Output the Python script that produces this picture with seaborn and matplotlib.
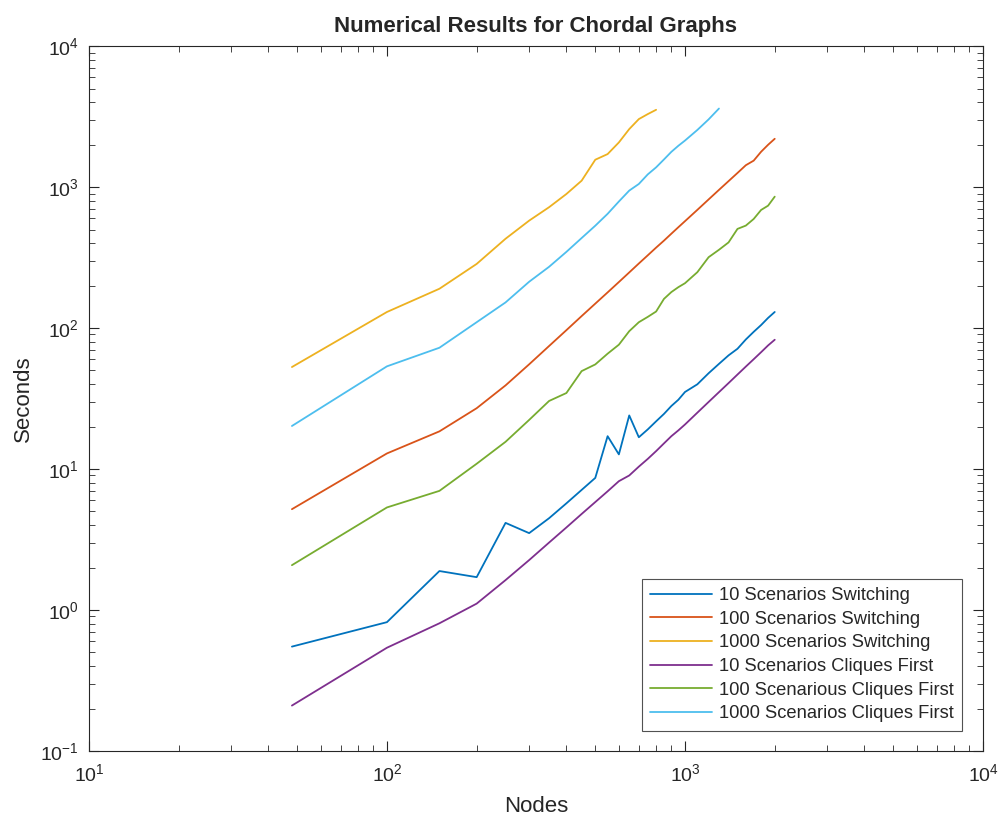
import matplotlib
matplotlib.use("Agg")
import matplotlib.pyplot as plt
import numpy as np
import pandas as pd
import seaborn as sns
from matplotlib.ticker import LogLocator, NullFormatter

# ---- data ------------------------------------------------------------------
nodes = [48, 100, 150, 200, 250, 300, 350, 400, 450, 500, 550, 600, 650, 700,
         750, 800, 850, 900, 950, 1000, 1100, 1200, 1300, 1400, 1500, 1600,
         1700, 1800, 1900, 2000]

sw_10 = [0.55, 0.82, 1.89, 1.71, 4.15, 3.51, 4.48, 5.71, 7.11, 8.65, 17.1, 12.7,
         24.0, 16.8, 19.1, 21.8, 24.6, 28.0, 31.0, 35.2, 39.9, 47.8, 55.7, 64.0,
         71.3, 83.0, 94.0, 105.0, 118.0, 130.0]
sw_100 = [5.19, 12.9, 18.5, 27.0, 39.2, 55.3, 74.6, 96.6, 121.6, 149.0, 179.0,
          212.0, 248.0, 287.0, 328.0, 372.0, 417.0, 467.0, 519.0, 573.0, 689.0,
          817.0, 955.0, 1102.0, 1259.0, 1429.0, 1540.0, 1780.0, 1995.0, 2200.0]
sw_1000 = [52.9, 130.0, 190.0, 285.0, 430.0, 578.0, 720.0, 893.0, 1110.0,
           1563.0, 1714.0, 2073.0, 2578.0, 3035.0, 3293.0, 3533.0]
cf_10 = [0.21, 0.54, 0.805, 1.11, 1.63, 2.26, 3.01, 3.85, 4.80, 5.83, 6.95, 8.2,
         9.0, 10.4, 11.8, 13.4, 15.2, 17.1, 18.8, 20.7, 25.1, 29.9, 35.1, 40.7,
         46.8, 53.3, 60.1, 67.4, 75.3, 82.6]
cf_100 = [2.08, 5.34, 7.0, 10.9, 15.6, 22.3, 30.4, 34.6, 49.5, 55.2, 65.8, 76.2,
          95.0, 110.0, 120.0, 131.0, 161.0, 180.0, 195.0, 208.0, 249.0, 318.0,
          359.0, 405.0, 505.0, 533.0, 594.0, 688.0, 738.0, 855.0]
cf_1000 = [20.2, 53.5, 72.5, 110.0, 152.0, 213.0, 272.0, 347.0, 435.0, 532.0,
           646.0, 790.0, 944.0, 1052.0, 1230.0, 1380.0, 1570.0, 1778.0, 1963.0,
           2138.0, 2541.0, 3020.0, 3606.0]

labels = ["10 Scenarios Switching", "100 Scenarios Switching",
          "1000 Scenarios Switching", "10 Scenarios Cliques First",
          "100 Scenarious Cliques First", "1000 Scenarios Cliques First"]
series = [sw_10, sw_100, sw_1000, cf_10, cf_100, cf_1000]
colors = ["#0072BD", "#D95319", "#EDB120", "#7E2F8E", "#77AC30", "#4DBEEE"]

rows = []
for lab, vals in zip(labels, series):
    for n, v in zip(nodes, vals):
        rows.append({"Nodes": n, "Seconds": v, "series": lab})
df = pd.DataFrame(rows)

# ---- plot -------------------------------------------------------------------
sns.set_theme(style="ticks")
plt.rcParams["font.family"] = ["Liberation Sans", "DejaVu Sans"]
plt.rcParams["mathtext.fontset"] = "custom"
plt.rcParams["mathtext.rm"] = "Liberation Sans"
plt.rcParams["mathtext.it"] = "Liberation Sans:italic"

fig = plt.figure(figsize=(10.02, 8.23), dpi=100)
ax = fig.add_axes([0.0887, 0.0875, 0.8924, 0.8565])

sns.lineplot(data=df, x="Nodes", y="Seconds", hue="series", hue_order=labels,
             palette=dict(zip(labels, colors)), estimator=None, sort=False,
             linewidth=1.3, ax=ax)

ax.set_xscale("log"); ax.set_yscale("log")
ax.set_xlim(10, 1e4); ax.set_ylim(0.1, 1e4)
ax.xaxis.set_major_locator(LogLocator(base=10, numticks=10))
ax.yaxis.set_major_locator(LogLocator(base=10, numticks=10))
ax.xaxis.set_minor_locator(LogLocator(base=10, subs=np.arange(2, 10), numticks=20))
ax.yaxis.set_minor_locator(LogLocator(base=10, subs=np.arange(2, 10), numticks=20))
ax.xaxis.set_minor_formatter(NullFormatter()); ax.yaxis.set_minor_formatter(NullFormatter())
ax.tick_params(which="both", direction="in", top=True, right=True,
               colors="#262626", labelsize=14)
ax.tick_params(axis="x", which="major", pad=9)
ax.tick_params(axis="y", which="major", pad=7)
ax.tick_params(which="major", length=7, width=0.8)
ax.tick_params(which="minor", length=4, width=0.6)
for s in ax.spines.values():
    s.set_color("#262626"); s.set_linewidth(0.8)

ax.set_xlabel("Nodes", fontsize=16, color="#262626", labelpad=8)
ax.set_ylabel("Seconds", fontsize=16, color="#262626", labelpad=5)
ax.set_title("Numerical Results for Chordal Graphs", fontsize=16,
             fontweight="bold", pad=10)

leg = ax.legend(loc="lower right", bbox_to_anchor=(0.976, 0.029),
                borderaxespad=0, fontsize=13.2, frameon=True, fancybox=False,
                handlelength=3.4, handletextpad=0.35, labelspacing=0.36,
                borderpad=0.45)
leg.get_frame().set_edgecolor("#262626")
leg.get_frame().set_linewidth(0.8)

fig.savefig("out.png", dpi=100)
